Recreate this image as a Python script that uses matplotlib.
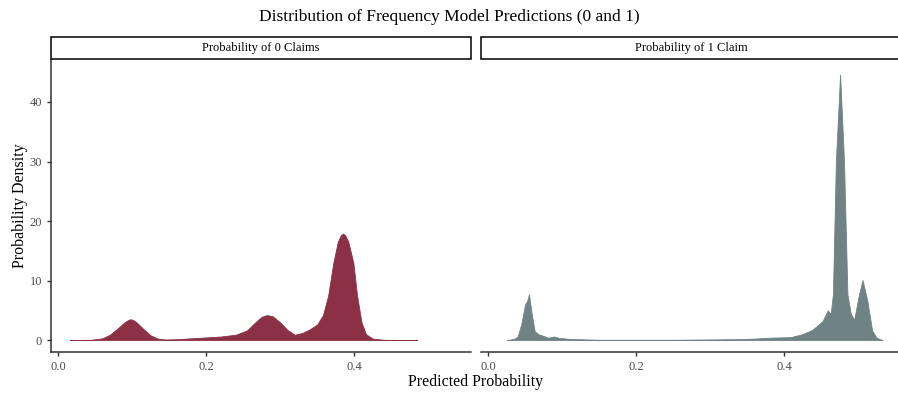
import matplotlib
matplotlib.use("Agg")
import matplotlib.pyplot as plt
from matplotlib.patches import Rectangle

plt.rcParams['font.family'] = ['Liberation Serif', 'DejaVu Serif']

title = "Distribution of Frequency Model Predictions (0 and 1)"
facet_labels = ["Probability of 0 Claims", "Probability of 1 Claim"]
xlabel = "Predicted Probability"
ylabel = "Probability Density"
colors = ["#8C3145", "#6F8385"]

x0 = [0.016, 0.045, 0.060, 0.070, 0.080, 0.090, 0.095, 0.098, 0.101, 0.105, 0.115, 0.125,
      0.135, 0.145, 0.160, 0.180, 0.200, 0.220, 0.240, 0.255, 0.265, 0.275, 0.282, 0.290,
      0.300, 0.310, 0.320, 0.330, 0.340, 0.350, 0.358, 0.365, 0.372, 0.378, 0.382, 0.385,
      0.388, 0.392, 0.399, 0.404, 0.410, 0.416, 0.425, 0.440, 0.485]
d0 = [0.0, 0.05, 0.3, 0.9, 1.9, 3.0, 3.4, 3.5, 3.4, 3.1, 1.9, 0.8,
      0.25, 0.1, 0.15, 0.3, 0.45, 0.6, 0.9, 1.6, 2.8, 3.9, 4.2, 4.0,
      3.0, 1.7, 0.9, 1.2, 1.8, 2.6, 4.2, 7.5, 13.0, 16.5, 17.6, 17.9,
      17.6, 16.6, 13.0, 7.5, 3.0, 1.0, 0.25, 0.05, 0.0]

x1 = [0.025, 0.035, 0.040, 0.045, 0.050, 0.053, 0.0553, 0.059, 0.063, 0.068, 0.075, 0.081,
      0.089, 0.095, 0.110, 0.150, 0.250, 0.335, 0.360, 0.380, 0.409, 0.425, 0.438, 0.452,
      0.459, 0.463, 0.466, 0.470, 0.4757, 0.481, 0.4856, 0.490, 0.4946, 0.5013, 0.506,
      0.5125, 0.519, 0.525, 0.533]
d1 = [0.0, 0.2, 0.6, 2.7, 6.0, 6.6, 7.7, 4.4, 1.5, 1.0, 0.7, 0.4,
      0.6, 0.4, 0.2, 0.05, 0.05, 0.15, 0.25, 0.4, 0.5, 1.0, 1.7, 3.2,
      5.0, 4.4, 7.7, 30.0, 44.6, 30.0, 7.7, 4.5, 3.4, 7.7, 10.1,
      6.6, 1.6, 0.4, 0.0]

xticks = [0.0, 0.2, 0.4]
xticklabels = ["0.0", "0.2", "0.4"]
yticks = [0, 10, 20, 30, 40]

W, H = 898, 396
fig = plt.figure(figsize=(W / 100, H / 100), dpi=100)

xlim = (-0.0095, 0.558)
ylim = (-2.0, 47.05)

panels = [(51, x0, d0), (481, x1, d1)]
for i, (left_px, xs, ds) in enumerate(panels):
    ax = fig.add_axes([left_px / W, 1 - 352 / H, 420 / W, (352 - 60) / H])
    ax.fill_between(xs, ds, 0, color=colors[i], lw=0.6, edgecolor=colors[i])
    ax.set_xlim(*xlim)
    ax.set_ylim(*ylim)
    for s in ["top", "right"]:
        ax.spines[s].set_visible(False)
    for s in ["left", "bottom"]:
        ax.spines[s].set_color("#333333")
        ax.spines[s].set_linewidth(1.1)
    ax.set_xticks(xticks)
    ax.set_xticklabels(xticklabels)
    ax.tick_params(colors="#333333", labelcolor="#4D4D4D", labelsize=9, length=3, width=1)
    if i == 0:
        ax.set_yticks(yticks)
        ax.set_ylabel(ylabel, fontsize=11.5, labelpad=1)
    else:
        ax.set_yticks([])
        ax.spines["left"].set_visible(False)
    # strip
    sx = left_px / W
    rect = Rectangle((sx, 1 - 59 / H), 420 / W, 22 / H, transform=fig.transFigure,
                     facecolor="white", edgecolor="black", lw=1.1, clip_on=False)
    fig.add_artist(rect)
    fig.text(sx + 210 / W, 1 - 48 / H, facet_labels[i], ha="center", va="center", fontsize=9)

fig.text(0.5, 1 - 17 / H, title, ha="center", va="center", fontsize=12.5)
fig.text(476 / W, 1 - 382 / H, xlabel, ha="center", va="center", fontsize=11.5)

fig.savefig("out.png", dpi=100)
